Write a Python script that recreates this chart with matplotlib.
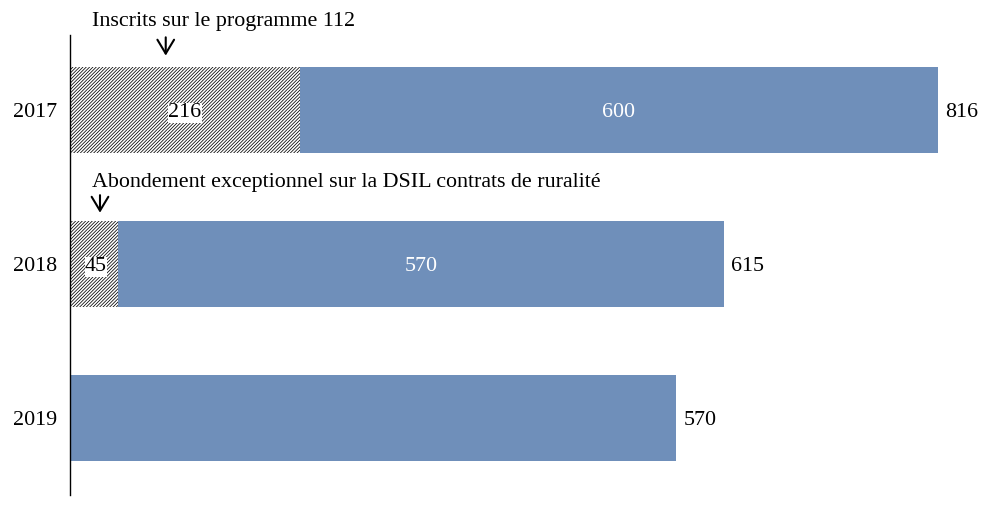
import matplotlib
matplotlib.use("Agg")
import matplotlib.pyplot as plt
import numpy as np

years = ["2017", "2018", "2019"]
programme = [216, 45, 0]
dsil = [600, 570, 570]
totals = [a + b for a, b in zip(programme, dsil)]

BLUE = "#6F8FBA"
plt.rcParams["font.family"] = ["Liberation Serif", "DejaVu Serif"]
plt.rcParams["hatch.linewidth"] = 0.55
plt.rcParams["hatch.color"] = "black"

fig = plt.figure(figsize=(9.92, 5.08), dpi=100)
ax = fig.add_axes([70 / 992, (508 - 495) / 508, 900 / 992, 460 / 508])

y = np.arange(len(years))
h = 0.56
ax.barh(y, programme, height=h, color="white", edgecolor="black", linewidth=0, hatch="/" * 10)
ax.barh(y, dsil, left=programme, height=h, color=BLUE, edgecolor="none")

fs = 15.8
dy = 0.018
for i in range(len(years)):
    if programme[i] > 0:
        ax.text(programme[i] / 2 if programme[i] > 100 else programme[i] / 2 + 2, y[i] + dy, str(programme[i]),
                ha="center", va="center", fontsize=fs, color="black",
                bbox=dict(facecolor="white", edgecolor="none", pad=0.3))
        ax.text(programme[i] + dsil[i] / 2, y[i] + dy, str(dsil[i]), ha="center", va="center",
                fontsize=fs, color="white")
    ax.text(totals[i] + 7 / 1.0637, y[i] + dy, str(totals[i]), ha="left", va="center",
            fontsize=fs, color="black")

ax.set_xlim(0, 900 / 1.0637)
ax.set_ylim(2.5, -0.487)
ax.set_yticks(y)
ax.set_yticklabels(years, fontsize=fs)
ax.tick_params(axis="y", length=0, pad=9)
ax.set_xticks([])
for s in ["top", "right", "bottom"]:
    ax.spines[s].set_visible(False)
ax.spines["left"].set_linewidth(1.0)

arrow = dict(arrowstyle="->,head_length=0.5,head_width=0.3", lw=1.5, color="black", mutation_scale=20)
ax.text(20.7, -0.572, "Inscrits sur le programme 112", fontsize=fs, ha="left", va="center", clip_on=False)
ax.annotate("", xy=(90, -0.335), xytext=(90, -0.49), arrowprops=arrow, annotation_clip=False)
ax.text(20.7, -0.527 + 1, "Abondement exceptionnel sur la DSIL contrats de ruralité", fontsize=fs,
        ha="left", va="center", clip_on=False)
ax.annotate("", xy=(28.2, -0.315 + 1), xytext=(28.2, -0.465 + 1), arrowprops=arrow, annotation_clip=False)

fig.savefig("out.png", dpi=100)
